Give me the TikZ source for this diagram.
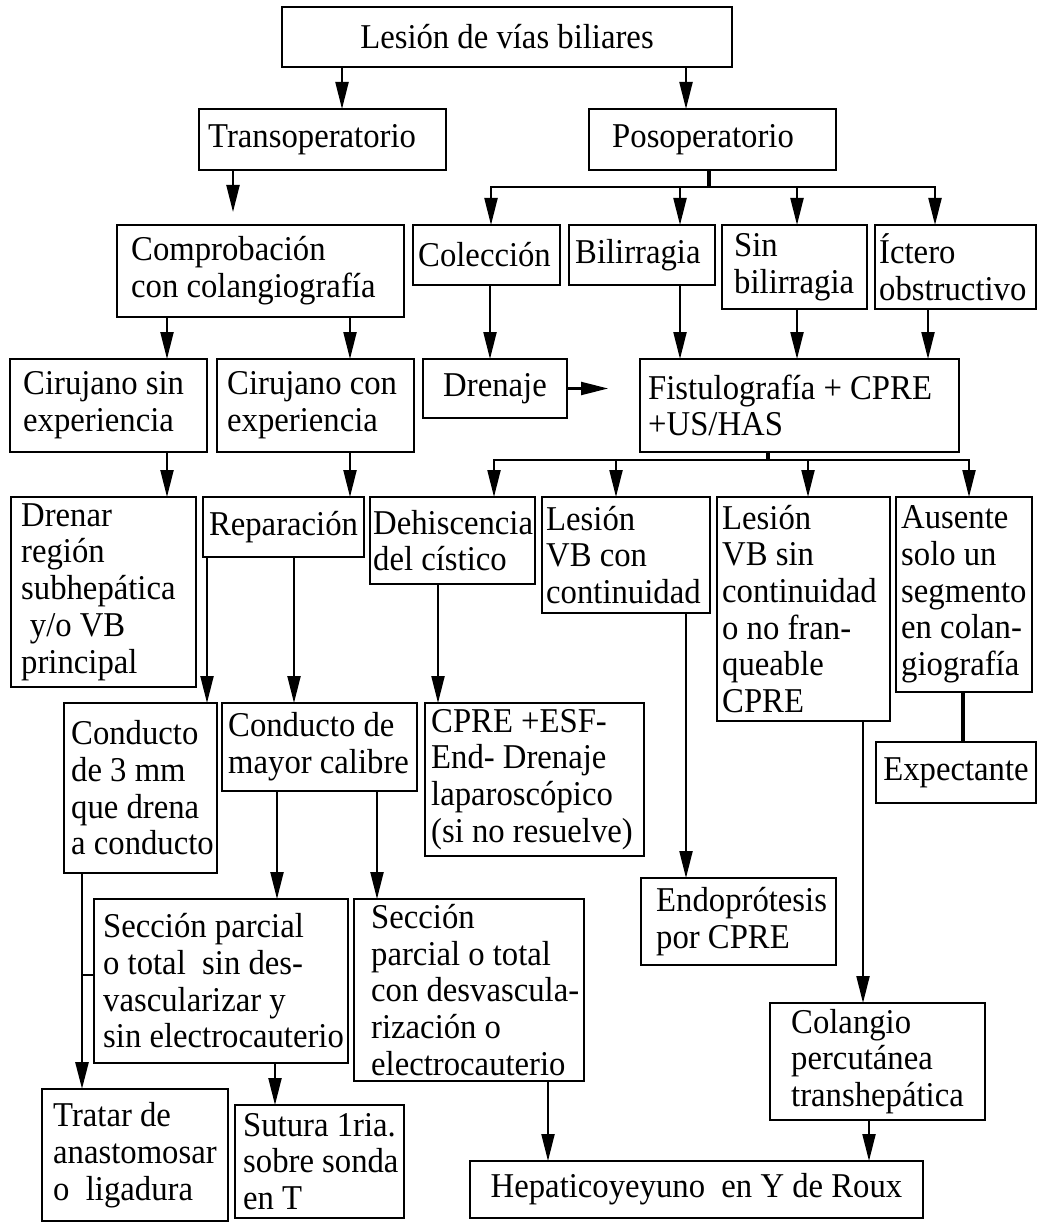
\documentclass[tikz,border=0pt]{standalone}
\usepackage{fontspec}
\setmainfont{Liberation Serif}[FakeStretch=0.94]
\usetikzlibrary{arrows.meta}
\tikzset{
  bx/.style={draw, line width=1.9pt, inner sep=0pt, outer sep=0pt},
  txt/.style={inner sep=0pt, align=left, font=\fontsize{34.8}{36.7}\selectfont},
  ln/.style={line width=2.2pt},
  thk/.style={line width=3.6pt},
  arr/.style={ln, -{Triangle[length=27pt,width=13pt]}},
}
% box with left-aligned text: name, x1, y1, x2, y2, left pad, text
\newcommand\bx[7]{%
  \pgfmathsetmacro\bxw{#4-#2}%
  \pgfmathsetmacro\bxh{#5-#3}%
  \pgfmathsetmacro\bxx{(#2+#4)/2}%
  \pgfmathsetmacro\bxy{(#3+#5)/2}%
  \node[bx, minimum width=\bxw pt, minimum height=\bxh pt] (#1) at (\bxx,\bxy) {};
  \node[txt, anchor=west] (#1-t) at ([xshift=#6pt]#1.west) {#7};
}
% box with centred text: name, x1, y1, x2, y2, text
\newcommand\bxc[6]{%
  \pgfmathsetmacro\bxw{#4-#2}%
  \pgfmathsetmacro\bxh{#5-#3}%
  \pgfmathsetmacro\bxx{(#2+#4)/2}%
  \pgfmathsetmacro\bxy{(#3+#5)/2}%
  \node[bx, minimum width=\bxw pt, minimum height=\bxh pt] (#1) at (\bxx,\bxy) {};
  \node[txt, align=center] (#1-t) at (#1.center) {#6};
}
\begin{document}
\begin{tikzpicture}[x=1pt,y=-1pt]
\fill[white] (0,0) rectangle (1037,1222);
\useasboundingbox (0,0) rectangle (1037,1222);

% ---------- boxes ----------
\bxc{top}{282}{7}{732}{67}{Lesión de vías biliares}
\bx{transop}{199}{109}{446}{170}{9}{Transoperatorio}
\bx{posop}{589}{109}{836}{170}{23}{Posoperatorio}
\bx{comprob}{117}{225}{404}{317}{14}{Comprobación\\con colangiografía}
\bx{coleccion}{413}{225}{560}{285}{5}{Colección}
\bx{bilirr}{569}{225}{715}{285}{6}{Bilirragia}
\bx{sinbil}{722}{225}{867}{309}{12}{Sin\\bilirragia}
\bx{ictero}{875}{225}{1036}{309}{4}{Íctero\\obstructivo}
\bx{cirsin}{10}{359}{207}{452}{13}{Cirujano sin\\experiencia}
\bx{circon}{217}{359}{414}{452}{10}{Cirujano con\\experiencia}
\bxc{drenaje}{423}{359}{567}{418}{Drenaje}
\bx{fistulo}{640}{359}{959}{452}{8}{Fistulografía + CPRE\\+US/HAS}
\bx{drenar}{11}{497}{196}{687}{10}{Drenar\\región\\subhepática\\\hspace*{0.25em}y/o VB\\principal}
\bxc{repar}{203}{497}{364}{557}{Reparación}
\bx{dehis}{370}{497}{535}{584}{3}{Dehiscencia\\del cístico}
\bx{lescon}{542}{497}{710}{613}{4}{Lesión\\VB con\\continuidad}
\bx{lessin}{717}{497}{890}{721}{5}{Lesión\\VB sin\\continuidad\\o no fran-\\queable\\CPRE}
\bx{ausente}{896}{497}{1032}{692}{5}{Ausente\\solo un\\segmento\\en colan-\\giografía}
\bx{cond3}{64}{703}{217}{873}{7}{Conducto\\de 3 mm\\que drena\\a conducto}
\bx{condmay}{222}{703}{417}{791}{6}{Conducto de\\mayor calibre}
\bx{cpre}{425}{703}{644}{856}{6}{CPRE +ESF-\\End- Drenaje\\laparoscópico\\(si no resuelve)}
\bxc{expect}{876}{742}{1036}{803}{Expectante}
\bx{endop}{641}{878}{836}{965}{15}{Endoprótesis\\por CPRE}
\bx{secsin}{94}{899}{348}{1063}{9}{Sección parcial\\o total\ \ sin des-\\vascularizar y\\sin electrocauterio}
\bx{seccon}{354}{899}{584}{1081}{17}{Sección\\parcial o total\\con desvascula-\\rización o\\electrocauterio}
\bx{colang}{770}{1003}{985}{1120}{21}{Colangio\\percutánea\\transhepática}
\bx{tratar}{42}{1089}{228}{1221}{11}{Tratar de\\anastomosar\\o\ \ ligadura}
\bx{sutura}{235}{1105}{404}{1218}{8}{Sutura 1ria.\\sobre sonda\\en T}
\bxc{hepat}{470}{1161}{923}{1218}{Hepaticoyeyuno\ \ en Y de Roux}

% ---------- connectors ----------
\draw[arr] (top.south -| 342,0) -- (transop.north -| 342,0);
\draw[arr] (top.south -| 686,0) -- (posop.north -| 686,0);
\draw[arr, shorten >=13pt] (transop.south -| 233,0) -- (comprob.north -| 233,0);

\coordinate (pb) at (709,187);
\draw[thk] (posop.south -| pb) -- (pb);
\draw[arr] (pb) -| (coleccion.north -| 491,0);
\draw[arr] (pb) -| (bilirr.north -| 680,0);
\draw[arr] (pb) -| (sinbil.north -| 797,0);
\draw[arr] (pb) -| (ictero.north -| 935,0);

\draw[arr] (comprob.south -| 167,0) -- (cirsin.north -| 167,0);
\draw[arr] (comprob.south -| 350,0) -- (circon.north -| 350,0);
\draw[arr] (coleccion.south -| 490,0) -- (drenaje.north -| 490,0);
\draw[arr] (bilirr.south -| 680,0) -- (fistulo.north -| 680,0);
\draw[arr] (sinbil.south -| 797,0) -- (fistulo.north -| 797,0);
\draw[arr] (ictero.south -| 928,0) -- (fistulo.north -| 928,0);
\draw[arr, shorten >=32pt] (drenaje.east) -- (fistulo.west |- drenaje.east);

\draw[arr] (cirsin.south -| 167,0) -- (drenar.north -| 167,0);
\draw[arr] (circon.south -| 350,0) -- (repar.north -| 350,0);

\coordinate (fb) at (768,460);
\draw[thk] (fistulo.south -| fb) -- (fb);
\draw[arr] (fb) -| (dehis.north -| 494,0);
\draw[arr] (fb) -| (lescon.north -| 616,0);
\draw[arr] (fb) -| (lessin.north -| 808,0);
\draw[arr] (fb) -| (ausente.north -| 969,0);

\draw[arr] (repar.south -| 207,0) -- (cond3.north -| 207,0);
\draw[arr] (repar.south -| 294,0) -- (condmay.north -| 294,0);
\draw[arr] (dehis.south -| 438,0) -- (cpre.north -| 438,0);
\draw[arr] (lescon.south -| 686,0) -- (endop.north -| 686,0);
\draw[arr] (lessin.south -| 863,0) -- (colang.north -| 863,0);
\draw[thk] (ausente.south -| 963,0) -- (expect.north -| 963,0);

\draw[arr] (condmay.south -| 277,0) -- (secsin.north -| 277,0);
\draw[arr] (condmay.south -| 377,0) -- (seccon.north -| 377,0);
\draw[arr, line width=2.8pt] (cond3.south -| 82,0) -- (tratar.north -| 82,0);
\draw[ln, line width=2.8pt] (secsin.west |- 0,975) -- ++(-12,0);
\draw[arr] (secsin.south -| 275,0) -- (sutura.north -| 275,0);
\draw[arr] (seccon.south -| 548,0) -- (hepat.north -| 548,0);
\draw[arr] (colang.south -| 869,0) -- (hepat.north -| 869,0);
\end{tikzpicture}
\end{document}
